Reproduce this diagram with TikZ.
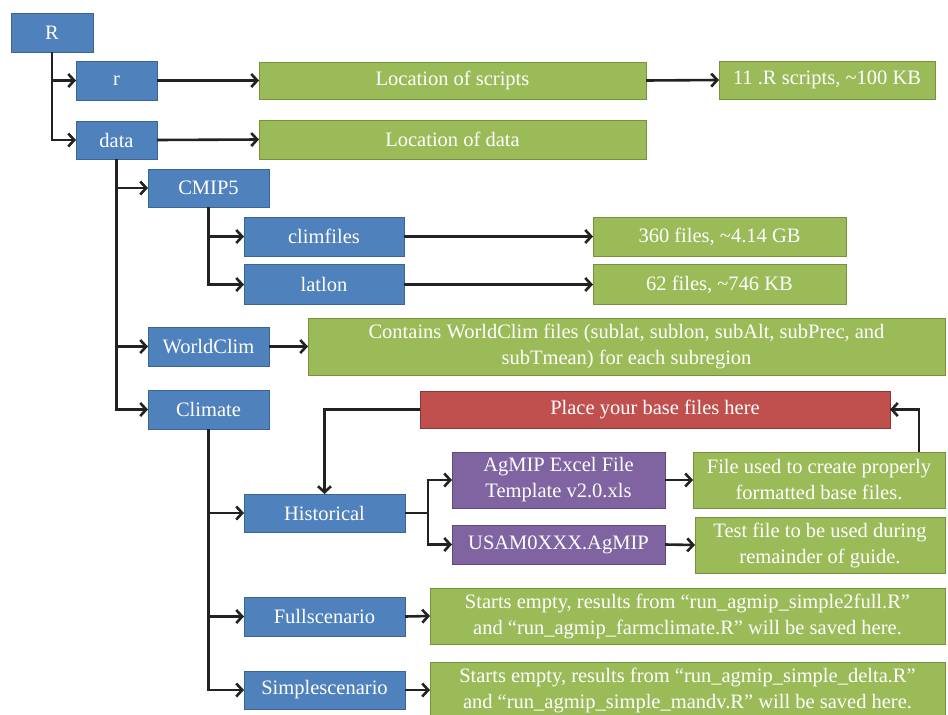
\documentclass[tikz,border=0pt]{standalone}
\usepackage{fontspec}
\setmainfont{Liberation Serif}
\newfontfamily\boxfont{Liberation Serif}
\usetikzlibrary{arrows.meta,calc}
\definecolor{bfill}{HTML}{4F81BD}\definecolor{bdraw}{HTML}{3A6595}
\definecolor{gfill}{HTML}{9BBB59}\definecolor{gdraw}{HTML}{76923C}
\definecolor{rfill}{HTML}{C0504D}\definecolor{rdraw}{HTML}{8C3836}
\definecolor{pfill}{HTML}{8064A2}\definecolor{pdraw}{HTML}{5F4A7B}
\definecolor{lnk}{HTML}{222222}
\tikzset{
  box/.style={rectangle, inner sep=0pt, outer sep=0pt, line width=1pt, text=white, align=center,
    font=\boxfont\fontsize{20.5}{26}\selectfont},
  bluebox/.style={box, fill=bfill, draw=bdraw},
  greenbox/.style={box, fill=gfill, draw=gdraw},
  redbox/.style={box, fill=rfill, draw=rdraw},
  purplebox/.style={box, fill=pfill, draw=pdraw},
  sz/.style 2 args={minimum width=#1pt, minimum height=#2pt},
  link/.style={draw=lnk, line width=2.6pt, -{Straight Barb[length=6pt,width=13pt]}},
  plain/.style={draw=lnk, line width=2.6pt},
}
\begin{document}
\begin{tikzpicture}[x=1pt,y=-1pt]
\useasboundingbox (0,0) rectangle (948,715);
% blue boxes
\node[bluebox, sz={82}{39}] (R) at (52,32.5) {R};
\node[bluebox, sz={81}{39}] (r) at (116.5,80.5) {r};
\node[bluebox, sz={81}{38}] (data) at (116.5,140) {data};
\node[bluebox, sz={121}{38}] (cmip) at (208.5,188) {CMIP5};
\node[bluebox, sz={160}{39}] (clim) at (324,236.5) {climfiles};
\node[bluebox, sz={160}{40}] (latlon) at (324,284.5) {latlon};
\node[bluebox, sz={121}{39}] (wc) at (208.5,346.5) {WorldClim};
\node[bluebox, sz={121}{39}] (climate) at (208.5,409.5) {Climate};
\node[bluebox, sz={161}{38}] (hist) at (324.5,513) {Historical};
\node[bluebox, sz={161}{39}] (full) at (324.5,616.5) {Fullscenario};
\node[bluebox, sz={161}{38}] (simple) at (324.5,690) {Simplescenario};
% green boxes
\node[greenbox, sz={387}{37}] (locs) at (452.5,80.5) {Location of scripts};
\node[greenbox, sz={216}{38}] (rs) at (827,80) {11 .R scripts, \textasciitilde100 KB};
\node[greenbox, sz={387}{39}] (locd) at (452.5,139.5) {Location of data};
\node[greenbox, sz={253}{39}] (f360) at (719.5,236.5) {360 files, \textasciitilde4.14 GB};
\node[greenbox, sz={253}{40}] (f62) at (719.5,284.5) {62 files, \textasciitilde746 KB};
\node[greenbox, sz={637}{57}] (cont) at (626.5,346.5) {Contains WorldClim files (sublat, sublon, subAlt, subPrec, and\\ subTmean) for each subregion};
\node[greenbox, sz={252}{56}] (fu) at (819,480) {File used to create properly\\ formatted base files.};
\node[greenbox, sz={250}{56}] (tf) at (820,545) {Test file to be used during\\ remainder of guide.};
\node[greenbox, sz={515}{56}] (se1) at (687.5,616) {Starts empty, results from “run\_agmip\_simple2full.R”\\ and “run\_agmip\_farmclimate.R” will be saved here.};
\node[greenbox, sz={515}{56}] (se2) at (687.5,690) {Starts empty, results from “run\_agmip\_simple\_delta.R”\\ and “run\_agmip\_simple\_mandv.R” will be saved here.};
% red and purple
\node[redbox, sz={470}{37}] (base) at (655,409.5) {Place your base files here};
\node[purplebox, sz={213}{56}] (agx) at (558.5,480) {AgMIP Excel File\\ Template v2.0.xls};
\node[purplebox, sz={213}{39}] (usam) at (558.5,544.5) {USAM0XXX.AgMIP};
% connectors
\draw[link] (R.south) |- (r.west);
\draw[link] (R.south) |- (data.west);
\draw[link] (r.east) -- (locs.west);
\draw[link] (locs.east) -- (rs.west);
\draw[link] (data.east) -- (locd.west);
\draw[link] (data.south) |- (cmip.west);
\draw[link] (data.south) |- (wc.west);
\draw[link] (data.south) |- (climate.west);
\draw[link] (cmip.south) |- (clim.west);
\draw[link] (cmip.south) |- (latlon.west);
\draw[link] (clim.east) -- (f360.west);
\draw[link] (latlon.east) -- (f62.west);
\draw[link] (wc.east) -- (cont.west);
\draw[link] (climate.south) |- (hist.west);
\draw[link] (climate.south) |- (full.west);
\draw[link] (climate.south) |- (simple.west);
\coordinate (fork) at ($(hist.east)+(23,0)$);
\draw[plain] (hist.east) -- (fork);
\draw[link] (fork) |- (agx.west);
\draw[link] (fork) |- (usam.west);
\draw[link] (agx.east) -- (fu.west);
\draw[link] (usam.east) -- (tf.west);
\draw[link] (full.east) -- (se1.west);
\draw[link] (simple.east) -- (se2.west);
\draw[link] (base.west) -| (hist.north);
\coordinate (fuup) at ($(fu.north east)+(-26,0)$);
\draw[link] (fuup) |- (base.east);
\end{tikzpicture}
\end{document}
